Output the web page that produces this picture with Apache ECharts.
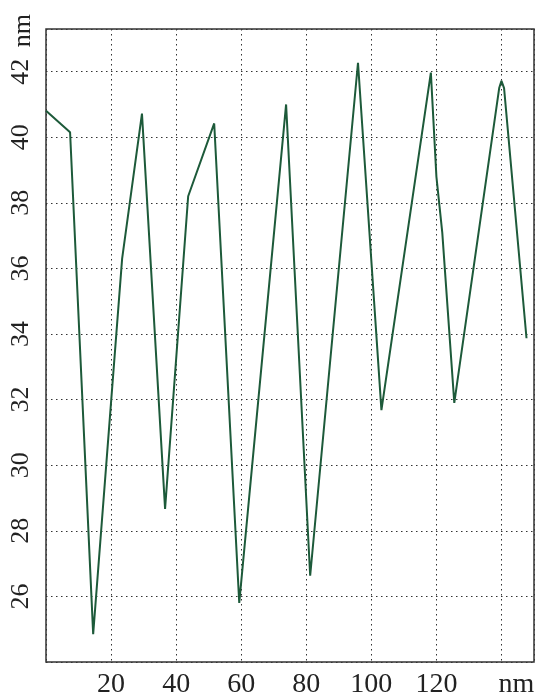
<!DOCTYPE html>
<html>
<head>
<meta charset="utf-8">
<script src="https://cdn.jsdelivr.net/npm/echarts@6/dist/echarts.min.js"></script>
<style>
  html, body { margin: 0; padding: 0; background: #fff; }
  #chart { width: 539px; height: 700px; }
</style>
</head>
<body>
<div id="chart"></div>
<script>
// profile (x in nm, height in nm)
var xs = [0, 7.4, 14.5, 23.4, 29.5, 36.6, 43.7, 51.7, 59.4, 73.8, 81.2, 95.9, 103.1, 118.3, 120, 121.8, 125.5, 139.3, 140, 140.8, 147.7];
var ys = [40.81, 40.15, 24.85, 36.3, 40.72, 28.67, 38.2, 40.42, 25.8, 41.0, 26.63, 42.27, 31.68, 41.97, 38.8, 37.1, 31.9, 41.5, 41.72, 41.5, 33.87];
var xTicks = [20, 40, 60, 80, 100, 120];
var yTicks = [26, 28, 30, 32, 34, 36, 38, 40, 42];

var pts = [];
for (var i = 0; i < xs.length; i++) {
    pts.push([xs[i], ys[i]]);
}

var gridDots = { color: '#333', width: 1, type: [1.5, 3.5] };
var serif = 'Liberation Serif';

var myChart = echarts.init(document.getElementById('chart'));
myChart.setOption({
    backgroundColor: '#fff',
    animation: false,
    grid: { left: 46, top: 29, right: 5, bottom: 38, show: true, borderColor: '#333', borderWidth: 1.5 },
    xAxis: {
        type: 'value', min: 0, max: 150, interval: 20,
        axisLine: { show: false },
        axisTick: { show: false },
        splitLine: { show: true, lineStyle: gridDots },
        axisLabel: {
            color: '#222', fontFamily: serif, fontSize: 28, margin: 9,
            formatter: function (v) {
                if (v === 140) return '{u|nm}';
                return xTicks.indexOf(v) >= 0 ? String(v) : '';
            },
            rich: { u: { fontFamily: serif, fontSize: 28, color: '#222', padding: [0, 0, 0, 30] } }
        }
    },
    yAxis: {
        type: 'value', min: 24, max: 43.3, interval: 2,
        axisLine: { show: false },
        axisTick: { show: false },
        splitLine: { show: true, lineStyle: gridDots },
        axisLabel: {
            color: '#222', fontFamily: serif, fontSize: 26, rotate: 90, margin: 12,
            formatter: function (v) {
                return yTicks.indexOf(v) >= 0 ? String(v) : '';
            }
        }
    },
    graphic: [{
        type: 'text', left: 10, top: 14, rotation: Math.PI / 2,
        style: { text: 'nm', font: '26px Liberation Serif', fill: '#222' }
    }],
    series: [{
        type: 'line',
        data: pts,
        symbol: 'none',
        smooth: false,
        lineStyle: { color: '#1d5a3a', width: 2 }
    }]
});
</script>
</body>
</html>
